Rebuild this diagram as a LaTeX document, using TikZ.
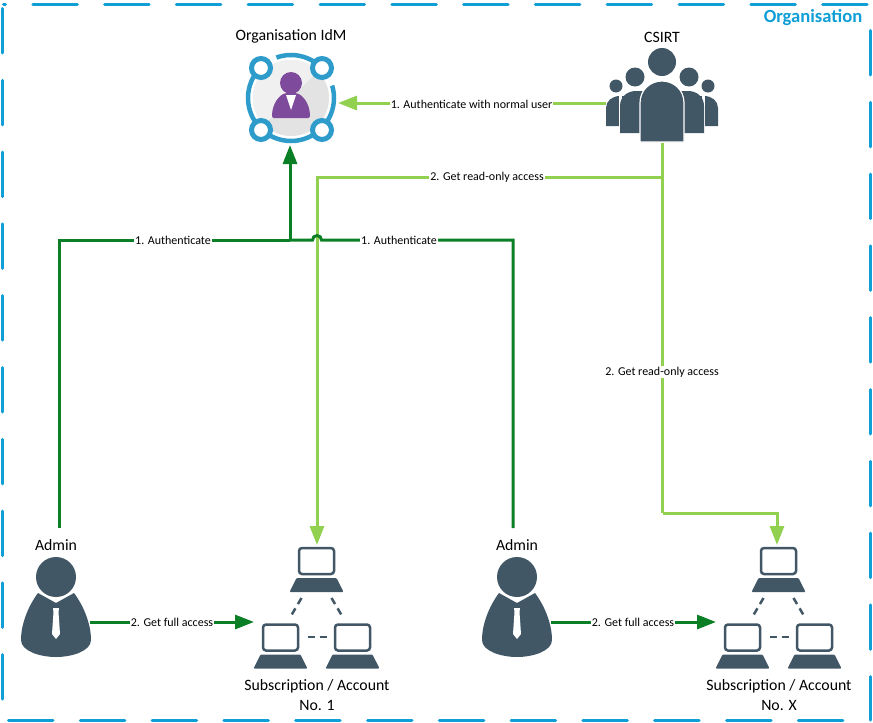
\documentclass[tikz,border=0pt]{standalone}
\usepackage{fontspec}
\setmainfont{Carlito}
\usetikzlibrary{arrows.meta,positioning,calc}

\definecolor{frameblue}{HTML}{0F9ED5}
\definecolor{ringblue}{HTML}{2E9CCA}
\definecolor{slate}{HTML}{415766}
\definecolor{idmpurple}{HTML}{7D4A9C}
\definecolor{darkflow}{HTML}{0B7F25}
\definecolor{lightflow}{HTML}{92D050}

\tikzset{
  iconbox/.style={inner sep=0,outer sep=0,minimum width=#1},
  title/.style={font=\fontsize{15.8}{20}\selectfont,align=center,inner sep=0},
  flowlabel/.style={font=\fontsize{12}{13}\selectfont,fill=white,inner xsep=1pt,inner ysep=0.5pt},
  darkline/.style={draw=darkflow,line width=3pt},
  lightline/.style={draw=lightflow,line width=3pt},
  flowtip/.style={-{Triangle[length=19pt,width=14pt]}},
  frameline/.style={frameblue,line width=3pt,line cap=round,dash pattern=on 44.5pt off 27.3pt},
  adminicon/.pic={
    \fill[slate] (0,0) circle (20);
    \fill[slate] (-18,16) -- (0,26) -- (18,16) .. controls (27,28) and (35,46) .. (35,63)
      .. controls (35,74) and (16,80) .. (0,80) .. controls (-16,80) and (-35,74) .. (-35,63)
      .. controls (-35,46) and (-27,28) .. (-18,16) -- cycle;
    \fill[white] (-3,31) -- (3,31) -- (2.5,35) -- (4,57) -- (0,62) -- (-4,57) -- (-2.5,35) -- cycle;
  },
  laptopicon/.pic={
    \draw[slate,line width=2.5pt,rounded corners=3pt] (-17.5,-13) rectangle (17.5,13);
    \fill[slate,rounded corners=1pt] (-20,17) -- (20,17) -- (27,31) -- (-27,31) -- cycle;
  },
  accounticon/.pic={
    \pic at (0,0) {laptopicon};
    \pic at (-36,76.5) {laptopicon};
    \pic at (36,76.5) {laptopicon};
    \draw[slate,line width=2.5pt,dash pattern=on 7pt off 5pt] (-15,37) -- (-25,54);
    \draw[slate,line width=2.5pt,dash pattern=on 7pt off 5pt] (15,37) -- (25,54);
    \draw[slate,line width=2.5pt,dash pattern=on 7pt off 5pt] (-9,76) -- (11,76);
  },
  csirtside/.pic={
    \fill[slate] (-46,24) circle (6.5);
    \fill[slate] (-56,64) -- (-56,46) .. controls (-56,39) and (-50,34) .. (-42,34) -- (-36,34) -- (-36,64) -- cycle;
    \fill[white] (-43,30) rectangle (-40,66);
    \fill[slate] (-27,15) circle (9.5);
    \fill[slate] (-42,71) -- (-42,44) .. controls (-42,35) and (-35,29) .. (-26,29) -- (-16,29) -- (-16,71) -- cycle;
  },
  csirticon/.pic={
    \pic at (0,0) {csirtside};
    \pic[xscale=-1] at (0,0) {csirtside};
    \fill[slate] (0,0) circle (14);
    \filldraw[fill=slate,draw=white,line width=1.2pt] (-22,80) -- (-22,41) .. controls (-22,28) and (-12,19) .. (0,19)
      .. controls (12,19) and (22,28) .. (22,41) -- (22,80) -- cycle;
  },
  idmicon/.pic={
    \fill[black!11] (0,0) circle (38);
    \begin{scope}
      \clip (0,0) circle (38);
      \fill[black!6] (-38,38) -- (38,-38) -- (-38,-38) -- cycle;
    \end{scope}
    \draw[ringblue,line width=4.5pt] (0,0) circle (43);
    \draw[white,line width=7pt] (-121:43) arc[start angle=-121,end angle=-110,radius=43];
    \draw[white,line width=7pt] (-30:43) arc[start angle=-30,end angle=-17,radius=43];
    \filldraw[fill=white,draw=ringblue,line width=5pt] (-30,-30) circle (9.5);
    \filldraw[fill=white,draw=ringblue,line width=5pt] (31,-30) circle (9.5);
    \filldraw[fill=white,draw=ringblue,line width=5pt] (-30,32) circle (9.5);
    \filldraw[fill=white,draw=ringblue,line width=5pt] (31,32) circle (9.5);
    \fill[idmpurple] (0,-15) circle (11);
    \fill[idmpurple,rounded corners=2pt] (-19,20) .. controls (-19,5) and (-11,-3) .. (-5,-5) -- (5,-5)
      .. controls (11,-3) and (19,5) .. (19,20) -- cycle;
    \fill[white] (-5,-3) -- (5,-3) -- (0,12) -- cycle;
  },
}

\begin{document}
\begin{tikzpicture}[x=1pt,y=-1pt]
\useasboundingbox (0,0) rectangle (873,723);
% frame
\draw[frameline,dash phase=42.5pt] (3.5,4.5) -- (870,4.5);
\draw[frameline] (2.5,8.5) -- (2.5,700);
\draw[frameline] (8.5,720.5) -- (868,720.5);
\draw[frameline] (870,30.5) -- (870,720);
\node[font=\fontsize{18.6}{20}\selectfont\bfseries,text=frameblue,inner sep=0](OrgTitle) at (813,17.5) {Organisation};
% icons
\node[iconbox=96pt,minimum height=84pt](IdM) at (290,103) {};
\node[iconbox=113pt,minimum height=80pt](CSIRT) at (662.5,103) {};
\node[iconbox=62pt,minimum height=188pt](AdminA) at (59,622) {};
\node[iconbox=76pt,minimum height=188pt](AdminB) at (513,622) {};
\node[iconbox=126pt,minimum height=154pt](AccountA) at (317,622) {};
\node[iconbox=122pt,minimum height=154pt](AccountX) at (777,622) {};
\pic at (291,98) {idmicon};
\pic at (662,62) {csirticon};
\pic at (56,577) {adminicon};
\pic at (517,577) {adminicon};
\pic at (316.5,561) {accounticon};
\pic at (778.5,561) {accounticon};
% titles
\node[title](IdMTitle) at (291,36) {Organisation IdM};
\node[title](CSIRTTitle) at (662,37) {CSIRT};
\node[title](AdminATitle) at (56,545) {Admin};
\node[title](AdminBTitle) at (517,545) {Admin};
\node[title](AccountATitle) at (317,695) {Subscription / Account\\No. 1};
\node[title](AccountXTitle) at (779,695) {Subscription / Account\\No. X};
% read-only paths
\coordinate (splitRead) at (CSIRT.south |- 0,177);
\coordinate (bendX) at (CSIRT.south |- 0,513);
\draw[lightline,flowtip] (CSIRT.west) -- (IdM.east);
\draw[lightline] (CSIRT.south) -- (splitRead);
\draw[lightline,flowtip] (splitRead) -| (AccountA.north);
\draw[lightline] (splitRead) -- (bendX);
\draw[lightline,flowtip] (bendX) -| (AccountX.north);
% admin paths
\coordinate (busJoin) at (IdM.south |- 0,240);
\coordinate (hopEast) at (321.5,240);
\draw[darkline,flowtip] (busJoin) -- (IdM.south);
\draw[darkline] (AdminA.north) |- (busJoin);
\draw[darkline] (AdminB.north) |- (hopEast) arc[start angle=0,end angle=-180,radius=4.5] -- (busJoin);
\draw[darkline,flowtip] (AdminA.east) -- (AccountA.west);
\draw[darkline,flowtip] (AdminB.east) -- (AccountX.west);
% labels
\node[flowlabel](LblNormal) at (471.5,104) {1. Authenticate with normal user};
\node[flowlabel](LblReadA) at (487,177) {2. Get read-only access};
\node[flowlabel](LblReadX) at (662,372) {2. Get read-only access};
\node[flowlabel](LblAuthA) at (173,240.5) {1. Authenticate};
\node[flowlabel](LblAuthB) at (399,240.5) {1. Authenticate};
\node[flowlabel](LblFullA) at (172,622.5) {2. Get full access};
\node[flowlabel](LblFullB) at (633,622.5) {2. Get full access};
\end{tikzpicture}
\end{document}
